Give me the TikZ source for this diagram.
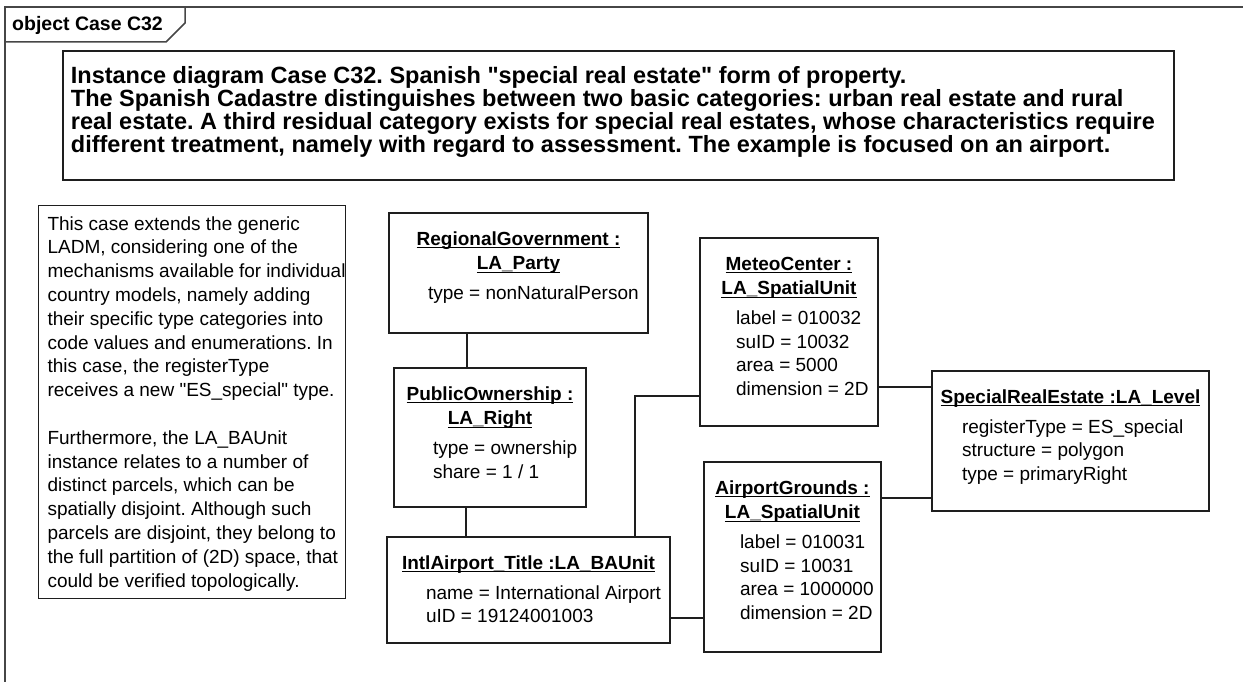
\documentclass[tikz,border=0pt]{standalone}
\usepackage{fontspec}
\setmainfont{Liberation Sans}[Ligatures=TeXOff]
\usetikzlibrary{positioning,calc}
\definecolor{framegray}{RGB}{70,70,70}
\definecolor{linegray}{RGB}{30,30,30}
\newcommand{\objfont}{\fontsize{19}{23.5}\selectfont}
\newcommand{\headfont}{\fontsize{23.5}{23}\selectfont\bfseries}
% underline at a fixed depth, as in the object names
\newcommand{\objul}[1]{\leavevmode\setbox0=\hbox{#1}\rlap{\rule[-3pt]{\wd0}{1pt}}\box0}
% object box body: width, height, indent, name lines, attribute lines
\newcommand{\objbody}[5]{%
  \begin{minipage}[t][#2][t]{#1}%
    \centering\bfseries\baselineskip=24.5pt
    \rule{0pt}{32pt}#4\par
    \vspace{6.5pt}%
    \raggedright\mdseries\baselineskip=23.5pt\leftskip=#3
    #5\par
  \end{minipage}}
\tikzset{
  framepath/.style={draw=framegray,line width=1.5pt},
  tablabel/.style={anchor=west,inner sep=0pt,font=\fontsize{19.5}{23}\selectfont\bfseries},
  headbox/.style={draw=linegray,line width=1.8pt,anchor=north west,inner sep=0pt,font=\headfont},
  notebox/.style={draw=linegray,line width=1.1pt,anchor=north west,inner sep=0pt,font=\objfont},
  objbox/.style={draw=linegray,line width=1.1pt,anchor=north west,inner sep=0pt,outer sep=0pt,font=\objfont},
  link/.style={draw=linegray,line width=1.1pt}
}

\begin{document}
\frenchspacing
\begin{tikzpicture}[x=1pt,y=-1pt]
  \useasboundingbox (0,0) rectangle (1243,682);

  %% Frame and tab
  \draw[framepath] (1243,7) -- (5,7) -- (5,682);
  \draw[framepath] (5,42) -- (166,42) -- (185,23) -- (185,7);
  \node[tablabel] (tab) at (12,25) {object Case C32};

  %% Heading
  \node[headbox] (head) at (62,50) {%
    \begin{minipage}[t][129pt][t]{1111pt}%
      \leftskip=8pt\baselineskip=23pt
      \rule{0pt}{33pt}Instance diagram Case C32. Spanish "special real estate" form of property.\\
      The Spanish Cadastre distinguishes between two basic categories: urban real estate and rural\\
      real estate. A third residual category exists for special real estates, whose characteristics require\\
      different treatment, namely with regard to assessment. The example is focused on an airport.\par
    \end{minipage}};

  %% Note
  \node[notebox] (note) at (38,205) {%
    \begin{minipage}[t][393pt][t]{307pt}%
      \leftskip=9pt\baselineskip=23.8pt
      \rule{0pt}{24.5pt}This case extends the generic\\
      LADM, considering one of the\\
      mechanisms available for individual\\
      country models, namely adding\\
      their specific type categories into\\
      code values and enumerations. In\\
      this case, the registerType\\
      receives a new "ES\_special" type.\\[23.8pt]
      Furthermore, the LA\_BAUnit\\
      instance relates to a number of\\
      distinct parcels, which can be\\
      spatially disjoint. Although such\\
      parcels are disjoint, they belong to\\
      the full partition of (2D) space, that\\
      could be verified topologically.\par
    \end{minipage}};

  %% Objects
  \node[objbox] (rg) at (389,213) {\objbody{259pt}{120pt}{39pt}
    {\objul{RegionalGovernment :}\\\objul{LA\_Party}}
    {type = nonNaturalPerson}};
  \node[objbox] (po) at (394,368) {\objbody{192pt}{139pt}{39pt}
    {\objul{PublicOwnership :}\\\objul{LA\_Right}}
    {type = ownership\\share = 1 / 1}};
  \node[objbox] (ba) at (387,537) {\objbody{283pt}{106pt}{39pt}
    {\objul{IntlAirport\_Title :LA\_BAUnit}}
    {name = International Airport\\uID = 19124001003}};
  \node[objbox] (mc) at (700,238) {\objbody{178pt}{188pt}{36pt}
    {\objul{MeteoCenter :}\\\objul{LA\_SpatialUnit}}
    {label = 010032\\suID = 10032\\area = 5000\\dimension = 2D}};
  \node[objbox] (ag) at (704,462) {\objbody{177pt}{190pt}{36pt}
    {\objul{AirportGrounds :}\\\objul{LA\_SpatialUnit}}
    {label = 010031\\suID = 10031\\area = 1000000\\dimension = 2D}};
  \node[objbox] (lv) at (932,371) {\objbody{277pt}{140pt}{30pt}
    {\objul{SpecialRealEstate :LA\_Level}}
    {registerType = ES\_special\\structure = polygon\\type = primaryRight}};

  %% Links
  \draw[link] ([xshift=-23pt]po.north) -- ([xshift=-23pt]po.north |- rg.south);
  \draw[link] ([xshift=-24pt]po.south) -- ([xshift=-24pt]po.south |- ba.north);
  \draw[link] ([xshift=106.5pt]ba.north) |- ([yshift=-64pt]mc.west);
  \draw[link] ([yshift=-28pt]ba.east) -- ([yshift=-28pt]ba.east -| ag.west);
  \draw[link] ([yshift=-55pt]mc.east) -- ([yshift=-55pt]mc.east -| lv.west);
  \draw[link] ([yshift=59pt]ag.east) -- ([yshift=59pt]ag.east -| lv.west);
\end{tikzpicture}
\end{document}
